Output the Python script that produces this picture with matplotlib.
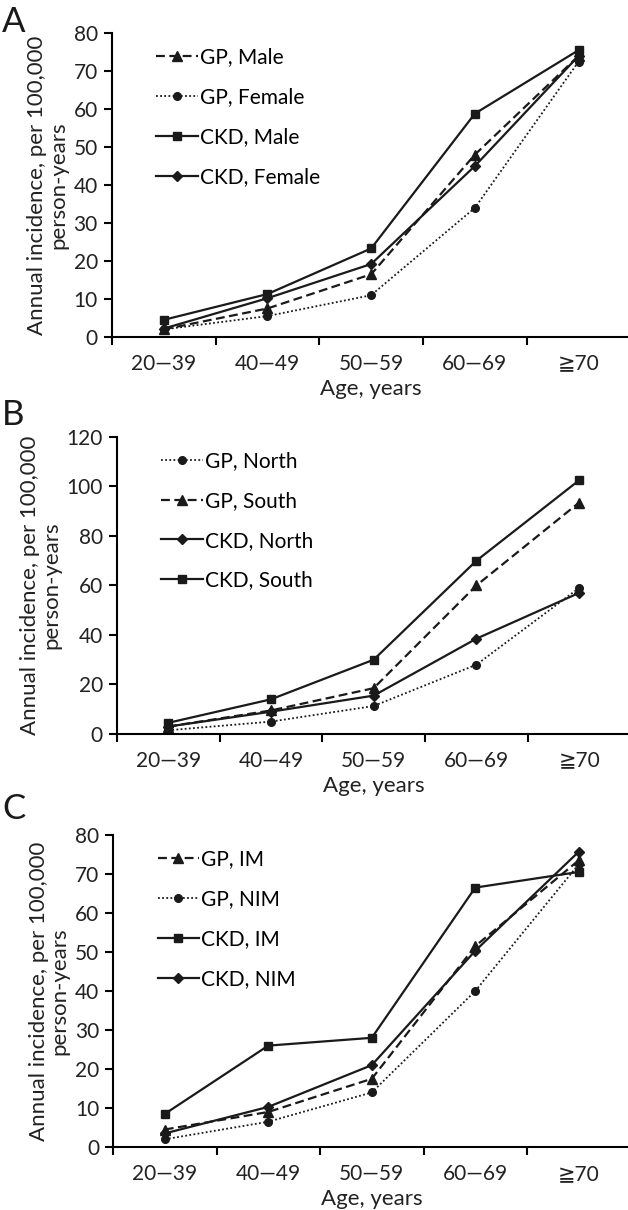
import numpy as np
import matplotlib
matplotlib.use('Agg')
import matplotlib.pyplot as plt

plt.rcParams['font.family'] = ['Lato', 'DejaVu Sans']

# age groups
ages = ['20\u201439', '40\u201449', '50\u201459', '60\u201469', '\u226770']

# panel A: sex
gp_male = [2.0, 7.5, 16.5, 48.0, 74.0]
gp_female = [2.0, 5.5, 11.0, 34.0, 72.5]
ckd_male = [4.5, 11.3, 23.3, 58.8, 75.5]
ckd_female = [2.2, 10.2, 19.2, 45.0, 74.0]

# panel B: region
gp_north = [1.5, 5.0, 11.3, 28.0, 59.0]
gp_south = [3.0, 9.5, 18.5, 60.0, 93.5]
ckd_north = [3.0, 9.0, 15.5, 38.5, 57.0]
ckd_south = [4.5, 14.0, 30.0, 70.0, 102.5]

# panel C: IM / NIM
gp_im = [4.5, 9.0, 17.5, 51.5, 73.5]
gp_nim = [2.0, 6.5, 14.0, 40.0, 72.5]
ckd_im = [8.5, 26.0, 28.0, 66.5, 70.5]
ckd_nim = [3.5, 10.3, 21.0, 50.3, 75.7]

styles = {
    'tri': dict(ls=(0, (4, 2)), marker='^', ms=7),
    'dot': dict(ls=(0, (1, 1.3)), marker='o', ms=5.5, lw=1.3),
    'sq': dict(ls='-', marker='s', ms=6),
    'dia': dict(ls='-', marker='D', ms=5),
}


def draw(ax, series, ymax, ystep):
    x = np.arange(len(ages)) + 0.5
    for label, vals, st in series:
        kw = dict(color='#1a1a1a', lw=1.6)
        kw.update(st)
        ax.plot(x, vals, label=label, **kw)
    ax.set_xlim(0, 5)
    ax.set_ylim(0, ymax)
    ax.set_yticks(np.arange(0, ymax + 1, ystep))
    ax.set_xticks(np.arange(0, 6))
    ax.set_xticklabels([])
    ax.set_xticks(x, minor=True)
    ax.set_xticklabels(ages, minor=True, color='#222222')
    ax.tick_params(axis='x', which='minor', length=0, pad=12, labelsize=15)
    ax.tick_params(axis='x', which='major', length=6, width=1.5, direction='out')
    ax.tick_params(axis='y', length=6, width=1.5, direction='out', labelsize=15, pad=4,
                   labelcolor='#222222')
    for s in ['top', 'right']:
        ax.spines[s].set_visible(False)
    ax.spines['left'].set_linewidth(1.5)
    ax.spines['bottom'].set_linewidth(1.5)
    ax.set_xlabel('Age, years', fontsize=16, labelpad=4, color='#222222')
    ax.set_ylabel('Annual incidence, per 100,000\nperson-years', fontsize=16,
                  linespacing=1.05, labelpad=4, color='#222222')
    ax.legend(loc='upper left', bbox_to_anchor=(0.07, 0.98), frameon=False,
              fontsize=15, labelspacing=0.95, handlelength=2.0, handletextpad=0.1,
              borderaxespad=0)


fig = plt.figure(figsize=(6.28, 12.10), dpi=100)

axA = fig.add_axes([0.178, 0.7215, 0.826, 0.2512])
draw(axA, [('GP, Male', gp_male, styles['tri']),
           ('GP, Female', gp_female, styles['dot']),
           ('CKD, Male', ckd_male, styles['sq']),
           ('CKD, Female', ckd_female, styles['dia'])], 80, 10)

axB = fig.add_axes([0.186, 0.3934, 0.818, 0.2455])
draw(axB, [('GP, North', gp_north, styles['dot']),
           ('GP, South', gp_south, styles['tri']),
           ('CKD, North', ckd_north, styles['dia']),
           ('CKD, South', ckd_south, styles['sq'])], 120, 20)

axC = fig.add_axes([0.18, 0.052, 0.824, 0.258])
draw(axC, [('GP, IM', gp_im, styles['tri']),
           ('GP, NIM', gp_nim, styles['dot']),
           ('CKD, IM', ckd_im, styles['sq']),
           ('CKD, NIM', ckd_nim, styles['dia'])], 80, 10)

for lab, y in [('A', 0.995), ('B', 0.67), ('C', 0.345)]:
    fig.text(0.003, y, lab, fontsize=25, va='top', ha='left', color='#1a1a1a')

fig.savefig('out.png', dpi=100)
